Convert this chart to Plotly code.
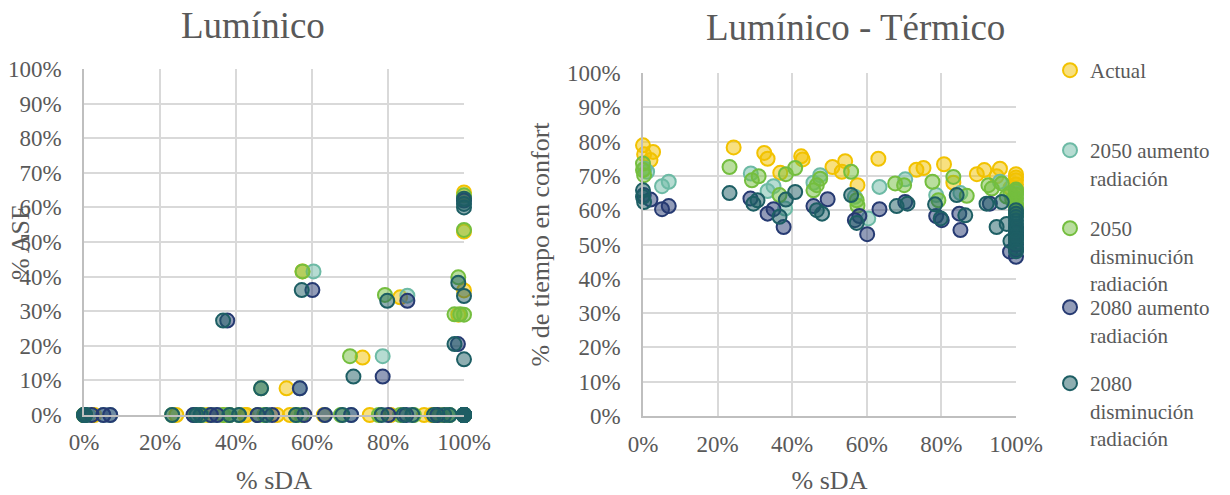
import plotly.graph_objects as go

# ---------------- data (percent) ----------------
names = ["Actual", "2050 aumento<br>radiación", "2050<br>disminución<br>radiación",
         "2080 aumento<br>radiación", "2080<br>disminución<br>radiación"]

actual_sda = [0, 0.3, 2.0, 2.7, 24.3, 32.5, 33.4, 36.8, 42.4, 42.8, 50.8, 53.3, 54.2, 57.5, 63.1,
              73.3, 75.2, 80.7, 83.2, 89.5, 91.5, 94.8, 95.7, 100, 100, 100, 100, 98.5, 100]
actual_ase = [0, 0, 0, 0, 0, 0, 0, 0, 0, 0, 0, 7.7, 0, 41.5, 0,
              16.6, 0, 0, 34.0, 0, 0, 0, 0, 64.3, 53.0, 36.0, 0, 29.0, 0]
actual_conf = [78.9, 76.3, 74.6, 77.0, 78.3, 76.7, 75.0, 70.9, 75.7, 74.8, 72.6, 71.2, 74.3, 67.3, 75.0,
               71.8, 72.3, 73.4, 68.0, 70.5, 71.7, 69.9, 72.1, 70.5, 69.5, 68.7, 67.5, 66.5, 66.0]

a2050_sda = [0.4, 1.1, 5.1, 6.9, 28.9, 33.4, 35.0, 38.1, 45.7, 47.5, 56.8, 60.4, 63.4, 70.3,
             78.6, 85.1, 95.7, 100, 100, 100, 100]
a2050_ase = [0, 0, 0, 0, 0, 0, 0, 0, 0, 0, 7.7, 41.5, 0, 0,
             17.0, 34.5, 0, 0, 0, 0, 0]
a2050_conf = [72.1, 71.2, 67.0, 68.3, 70.7, 65.6, 67.0, 60.5, 68.0, 70.2, 63.9, 57.6, 66.8, 69.0,
              64.4, 65.0, 68.3, 62.9, 64.9, 60.0, 61.5]

d2050_sda = [0, 0, 0.3, 23.2, 29.2, 31.0, 36.6, 38.3, 40.8, 46.6, 45.7, 47.5, 55.8, 57.5, 57.3,
             67.6, 70.0, 77.6, 79.2, 83.2, 86.8, 92.6, 93.5, 96.2, 98.5, 97.5, 99.0, 100, 100, 100,
             100, 100, 100, 100, 100]
d2050_ase = [0, 0, 0, 0, 0, 0, 0, 0, 0, 7.7, 0, 0, 0, 41.5, 0,
             0, 17.0, 0, 34.7, 0, 0, 0, 0, 0, 39.8, 29.1, 29.1, 29.0, 53.5, 63.5,
             0, 0, 0, 0, 0]
d2050_conf = [73.6, 71.7, 70.2, 72.6, 68.7, 69.9, 64.4, 70.5, 72.3, 67.3, 65.8, 69.2, 71.2, 61.3, 62.9,
              67.8, 67.3, 68.3, 62.9, 69.7, 64.2, 67.3, 66.3, 67.8, 65.0, 64.0, 63.0, 62.0, 66.0, 65.5,
              61.0, 60.0, 58.5, 63.5, 64.5]

a2080_sda = [0.2, 2.0, 5.1, 6.9, 28.8, 33.4, 35.0, 37.7, 45.7, 49.5, 56.8, 58.0, 60.1, 63.4,
             70.3, 78.6, 80.1, 85.1, 84.8, 93.0, 98.4, 100, 100, 100, 100, 100, 100]
a2080_ase = [0, 0, 0, 0, 0, 0, 0, 27.3, 0, 0, 7.7, 0, 36.1, 0,
             0, 11.1, 0, 33.0, 0, 0, 20.5, 62.0, 0, 0, 0, 0, 0]
a2080_conf = [64.4, 63.1, 60.3, 61.2, 63.4, 59.0, 60.3, 55.1, 61.2, 63.2, 57.1, 58.3, 53.0, 60.3,
              62.4, 58.3, 57.1, 54.2, 59.0, 61.9, 47.9, 46.4, 50.0, 52.0, 55.0, 48.5, 53.5]

d2080_sda = [0, 0, 0.3, 23.2, 29.6, 30.7, 36.6, 38.3, 40.8, 46.6, 48.0, 55.8, 57.3, 68.0,
             70.9, 78.3, 79.8, 84.1, 86.4, 92.1, 94.8, 96.2, 97.5, 98.5, 100, 100, 100, 100, 100,
             100, 100, 100, 100, 100, 100, 100, 100]
d2080_ase = [0, 0, 0, 0, 0, 0, 27.3, 0, 0, 7.7, 0, 0, 36.1, 0,
             11.1, 0, 33.0, 0, 0, 0, 0, 0, 20.5, 38.2, 34.4, 16.1, 61.0, 60.0, 62.5,
             0, 0, 0, 0, 0, 0, 0, 0]
d2080_conf = [65.8, 63.9, 62.4, 65.0, 61.9, 62.9, 58.1, 63.1, 65.3, 60.0, 59.0, 64.4, 56.3, 61.2,
              61.9, 61.7, 57.6, 64.4, 58.5, 61.9, 55.1, 62.4, 56.0, 51.0, 59.0, 58.0, 57.0, 55.0, 53.0,
              52.0, 50.5, 54.0, 49.0, 60.0, 56.0, 51.5, 48.0]

sda_all = [actual_sda, a2050_sda, d2050_sda, a2080_sda, d2080_sda]
ase_all = [actual_ase, a2050_ase, d2050_ase, a2080_ase, d2080_ase]
conf_all = [actual_conf, a2050_conf, d2050_conf, a2080_conf, d2080_conf]

border = ["#F2C200", "#6DBAA5", "#74BE3E", "#263A72", "#1D5E64"]
fill = ["rgba(242,194,0,0.5)", "rgba(109,186,165,0.5)", "rgba(116,190,62,0.5)",
        "rgba(38,58,114,0.5)", "rgba(29,94,100,0.5)"]

x_ticks = [0, 20, 40, 60, 80, 100]
y_ticks = [0, 10, 20, 30, 40, 50, 60, 70, 80, 90, 100]

FONT = "Liberation Serif, Times New Roman, serif"
TXT = "#595959"
# page body has an 8px margin: the figure is 1222x487 and page coordinates are shifted by 8
OFF = 8
W, H = 1230 - OFF, 495 - OFF


def px(X):
    return (X - OFF) / W


def py(Y):
    return 1 - (Y - OFF) / H


fig = go.Figure()
legend_top = [50, 130, 208, 287, 363]
for i in range(5):
    mk = dict(size=14, color=fill[i], line=dict(color=border[i], width=2))
    fig.add_trace(go.Scatter(x=sda_all[i], y=ase_all[i], xaxis="x", yaxis="y", mode="markers",
                             marker=mk, showlegend=False, cliponaxis=False, name=names[i]))
    fig.add_trace(go.Scatter(x=sda_all[i], y=conf_all[i], xaxis="x2", yaxis="y2", mode="markers",
                             marker=mk, showlegend=True, cliponaxis=False, name=names[i],
                             legend="legend" if i == 0 else f"legend{i+1}"))


def ax(domain, ticks, anchor, standoff, title=None, tstand=10):
    d = dict(domain=domain, range=[0, 100], tickvals=ticks, ticktext=[f"{t}%" for t in ticks],
             showgrid=True, gridcolor="#D9D9D9", gridwidth=1.5, zeroline=False,
             showline=True, linecolor="#BFBFBF", linewidth=1.5, automargin=False,
             tickfont=dict(family=FONT, size=23, color=TXT), anchor=anchor,
             ticks="", ticklabelstandoff=standoff, fixedrange=True)
    if title:
        d["title"] = dict(text=title, font=dict(family=FONT, size=26, color=TXT), standoff=tstand)
    return d


lx = [px(84), px(464)]
ly = [py(415), py(69)]
rx = [px(643), px(1016)]
ry = [py(416), py(73)]

layout = dict(
    width=W, height=H, margin=dict(l=0, r=0, t=0, b=0, autoexpand=False),
    paper_bgcolor="white", plot_bgcolor="white",
    xaxis=ax(lx, x_ticks, "y", 6, "% sDA", 18),
    yaxis=ax(ly, y_ticks, "x", 16),
    xaxis2=ax(rx, x_ticks, "y2", 7, "% sDA", 18),
    yaxis2=ax(ry, y_ticks, "x2", 16, "% de tiempo en confort", 10),
    annotations=[
        dict(text="Lumínico", x=px(253), y=py(26), xref="paper", yref="paper",
             xanchor="center", yanchor="middle",
             showarrow=False, font=dict(family=FONT, size=37, color=TXT)),
        dict(text="Lumínico - Térmico", x=px(855), y=py(28), xref="paper", yref="paper",
             xanchor="center", yanchor="middle",
             showarrow=False, font=dict(family=FONT, size=37, color=TXT)),
        dict(text="% ASE", x=px(20), y=py(242), xref="paper", yref="paper", textangle=-90,
             xanchor="center", yanchor="middle",
             showarrow=False, font=dict(family=FONT, size=26, color=TXT)),
    ],
)
for i in range(5):
    key = "legend" if i == 0 else f"legend{i+1}"
    layout[key] = dict(x=px(1050), y=py(legend_top[i]), xanchor="left", yanchor="top",
                       font=dict(family=FONT, size=21, color=TXT), valign="top",
                       bgcolor="rgba(0,0,0,0)", itemwidth=30)
fig.update_layout(**layout)

fig.write_html("out.html")
